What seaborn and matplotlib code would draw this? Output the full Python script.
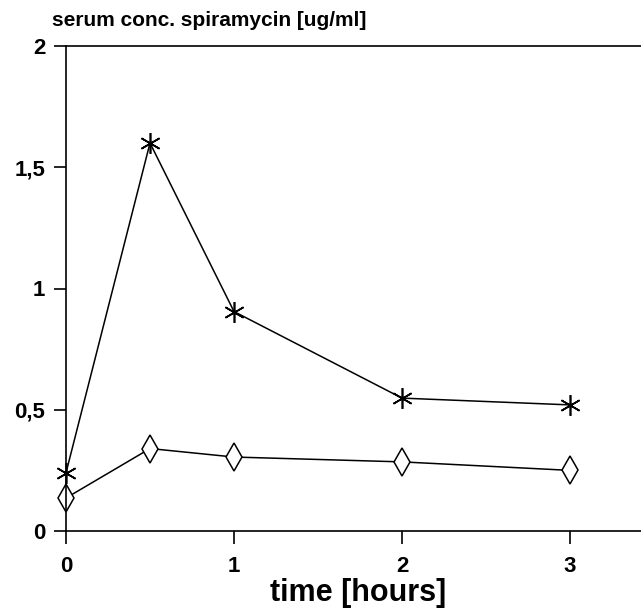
import numpy as np
import pandas as pd
import seaborn as sns
import matplotlib.pyplot as plt

hours = [0, 0.5, 1, 2, 3]
conc_star = [0.24, 1.60, 0.905, 0.548, 0.52]
conc_diamond = [0.136, 0.34, 0.305, 0.285, 0.25]

df = pd.DataFrame({'hours': hours + hours,
                   'conc': conc_star + conc_diamond,
                   'series': ['A'] * 5 + ['B'] * 5})

sns.set_style('white')
plt.rcParams['font.family'] = ['Liberation Sans', 'DejaVu Sans']

fig = plt.figure(figsize=(6.41, 6.09), dpi=100)
ax = fig.add_axes([66 / 641, 78 / 609, 1 - 66 / 641, (531 - 46) / 609])

sns.lineplot(data=df[df.series == 'A'], x='hours', y='conc', ax=ax,
             color='black', lw=1.1, marker=(6, 2, 0), markersize=15,
             markeredgewidth=1.2, markeredgecolor='black', clip_on=False)
sns.lineplot(data=df[df.series == 'B'], x='hours', y='conc', ax=ax,
             color='black', lw=1.1, marker='d', markersize=14,
             markerfacecolor='white', markeredgecolor='black',
             markeredgewidth=1.1, clip_on=False)

ax.set_xlim(0, (641 - 66) / 168)
ax.set_ylim(0, 2)
ax.set_xticks([0, 1, 2, 3])
ax.set_xticklabels(['0', '1', '2', '3'])
ax.set_yticks([0, 0.5, 1, 1.5, 2])
ax.set_yticklabels(['0', '0,5', '1', '1,5', '2'])
ax.tick_params(axis='both', direction='out', length=9, width=1.2,
               colors='black', labelsize=16, pad=6,
               bottom=True, left=True)
for lab in ax.get_xticklabels() + ax.get_yticklabels():
    lab.set_fontweight('bold')
ax.tick_params(axis='x', pad=9)

for side in ['left', 'bottom', 'top']:
    ax.spines[side].set_visible(True)
    ax.spines[side].set_color('black')
    ax.spines[side].set_linewidth(1.2)
ax.spines['right'].set_visible(False)

ax.set_xlabel('time [hours]', fontsize=22, fontweight='bold', color='black')
ax.xaxis.set_label_coords((358 - 66) / 575, -0.096)
ax.set_ylabel('')
fig.text(52 / 641, 1 - 21 / 609, 'serum conc. spiramycin [ug/ml]',
         fontsize=15, fontweight='bold', va='center', ha='left',
         color='black')

fig.savefig('out.png', dpi=100)
